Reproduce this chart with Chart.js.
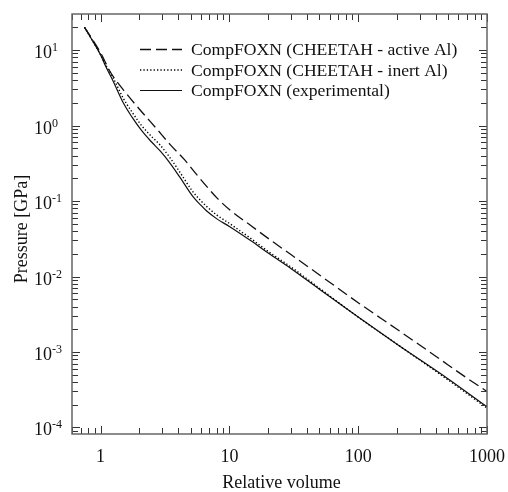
<!DOCTYPE html>
<html>
<head>
<meta charset="utf-8">
<script src="https://cdn.jsdelivr.net/npm/chart.js@4.4.0/dist/chart.umd.min.js"></script>
<style>
  html, body { margin: 0; padding: 0; background: #fff; }
  #wrap { width: 508px; height: 492px; }
</style>
</head>
<body>
<div id="wrap"><canvas id="pressureChart"></canvas></div>
<script>
// values (relative volume vs pressure in GPa)
const activeVol = [0.75, 0.85, 1.0, 1.2, 1.6, 2.1, 2.7, 3.5, 4.5, 5.5, 6.8, 8, 10, 15, 20, 40, 60, 100, 200, 400, 700, 1000];
const activeP = [20, 14.5, 9.2, 5.0, 2.6, 1.5, 0.92, 0.55, 0.35, 0.23, 0.15, 0.11, 0.077, 0.046, 0.032, 0.0138, 0.0084, 0.0045, 0.002, 0.00088, 0.00045, 0.0003];

const expVol = [0.75, 0.85, 1.0, 1.1, 1.25, 1.5, 1.75, 2.1, 2.5, 2.9, 3.4, 4.1, 5.2, 6.0, 6.6, 8, 10, 15, 20, 30, 50, 100, 200, 500, 1000];
const inertP = [20, 14, 8.7, 6.3, 4.3, 2.3, 1.52, 0.98, 0.71, 0.55, 0.39, 0.245, 0.133, 0.101, 0.086, 0.065, 0.0505, 0.031, 0.0215, 0.0134, 0.0070, 0.0029, 0.00127, 0.000425, 0.000181];
const expP = [20, 14, 8.6, 6.0, 3.9, 2.0, 1.3, 0.84, 0.6, 0.46, 0.33, 0.21, 0.115, 0.088, 0.075, 0.058, 0.046, 0.029, 0.0205, 0.0128, 0.0068, 0.0029, 0.00127, 0.00044, 0.000188];

const seriesNames = [
  'CompFOXN (CHEETAH - active Al)',
  'CompFOXN (CHEETAH - inert Al)',
  'CompFOXN (experimental)'
];

const xTickValues = [1, 10, 100, 1000];
const xTickLabels = ['1', '10', '100', '1000'];
const yTickValues = [1e-4, 1e-3, 1e-2, 1e-1, 1, 10];
const yTickExps = ['-4', '-3', '-2', '-1', '0', '1'];

const X_MIN = 0.6, X_MAX = 1000;
const Y_MIN = 8.2e-5, Y_MAX = 30;

const SERIF = "'Liberation Serif', 'Times New Roman', serif";

function toPoints(xs, ys) {
  return xs.map((x, i) => ({ x: x, y: ys[i] }));
}

// minor ticks 2..9 in every decade inside [min, max]
function minorTicks(min, max) {
  const out = [];
  for (let d = Math.floor(Math.log10(min)); d <= Math.ceil(Math.log10(max)); d++) {
    for (let k = 2; k <= 9; k++) {
      const v = k * Math.pow(10, d);
      if (v > min && v < max) out.push(v);
    }
  }
  return out;
}

const frameAndLabels = {
  id: 'frameAndLabels',
  afterDraw(chart) {
    const ctx = chart.ctx;
    const a = chart.chartArea;
    const xs = chart.scales.x, ys = chart.scales.y;
    ctx.save();

    // ticks, inward on all four sides
    ctx.strokeStyle = '#333';
    ctx.lineWidth = 1;
    ctx.setLineDash([]);
    const xTick = (v, len) => {
      const px = Math.round(xs.getPixelForValue(v)) + 0.5;
      ctx.beginPath();
      ctx.moveTo(px, a.bottom); ctx.lineTo(px, a.bottom - len);
      ctx.moveTo(px, a.top); ctx.lineTo(px, a.top + len);
      ctx.stroke();
    };
    const yTick = (v, len) => {
      const py = Math.round(ys.getPixelForValue(v)) + 0.5;
      ctx.beginPath();
      ctx.moveTo(a.left, py); ctx.lineTo(a.left + len, py);
      ctx.moveTo(a.right, py); ctx.lineTo(a.right - len, py);
      ctx.stroke();
    };
    xTickValues.forEach(v => xTick(v, 8));
    minorTicks(X_MIN, X_MAX).forEach(v => xTick(v, 6));
    yTickValues.forEach(v => yTick(v, 8));
    minorTicks(Y_MIN, Y_MAX).forEach(v => yTick(v, 6));

    // frame
    ctx.strokeStyle = '#666';
    ctx.lineWidth = 1.5;
    ctx.strokeRect(a.left, a.top, a.right - a.left, a.bottom - a.top);

    ctx.fillStyle = '#111';

    // x tick labels
    ctx.font = '18px ' + SERIF;
    ctx.textAlign = 'center';
    ctx.textBaseline = 'alphabetic';
    xTickValues.forEach((v, i) => {
      ctx.fillText(xTickLabels[i], xs.getPixelForValue(v), a.bottom + 28);
    });

    // y tick labels: 10 with superscript exponent
    ctx.textAlign = 'left';
    yTickValues.forEach((v, i) => {
      const py = ys.getPixelForValue(v);
      ctx.font = '18px ' + SERIF;
      ctx.fillText('10', 34, py + 8);
      const w = ctx.measureText('10').width;
      ctx.font = '12px ' + SERIF;
      ctx.fillText(yTickExps[i], 34 + w, py + 1);
    });

    // axis titles
    ctx.font = '18px ' + SERIF;
    ctx.textAlign = 'center';
    ctx.fillText('Relative volume', (a.left + a.right) / 2 + 2, 488);
    ctx.save();
    ctx.translate(27, 229);
    ctx.rotate(-Math.PI / 2);
    ctx.fillText('Pressure [GPa]', 0, 0);
    ctx.restore();

    // legend inside the plot
    ctx.font = '17.6px ' + SERIF;
    ctx.textAlign = 'left';
    ctx.textBaseline = 'middle';
    chart.data.datasets.forEach((ds, i) => {
      const y = 49.5 + i * 20.5;
      ctx.strokeStyle = ds.borderColor;
      ctx.lineWidth = ds.borderWidth;
      ctx.setLineDash(ds.borderDash || []);
      ctx.beginPath();
      ctx.moveTo(140, y); ctx.lineTo(182, y);
      ctx.stroke();
      ctx.fillText(ds.label, 191, y + 1);
    });

    ctx.restore();
  }
};

new Chart(document.getElementById('pressureChart'), {
  type: 'line',
  data: {
    datasets: [
      {
        label: seriesNames[0],
        data: toPoints(activeVol, activeP),
        borderColor: '#111',
        borderWidth: 1.3,
        borderDash: [11, 5]
      },
      {
        label: seriesNames[1],
        data: toPoints(expVol, inertP),
        borderColor: '#000',
        borderWidth: 1.4,
        borderDash: [1.3, 2.1]
      },
      {
        label: seriesNames[2],
        data: toPoints(expVol, expP),
        borderColor: '#111',
        borderWidth: 1.2,
        borderDash: []
      }
    ]
  },
  options: {
    responsive: true,
    maintainAspectRatio: false,
    animation: false,
    layout: { padding: { left: 72, right: 21, top: 14, bottom: 58 } },
    elements: {
      point: { radius: 0 },
      line: { cubicInterpolationMode: 'monotone', fill: false }
    },
    scales: {
      x: { type: 'logarithmic', min: X_MIN, max: X_MAX, display: false },
      y: { type: 'logarithmic', min: Y_MIN, max: Y_MAX, display: false }
    },
    plugins: {
      legend: { display: false },
      tooltip: { enabled: false }
    }
  },
  plugins: [frameAndLabels]
});
</script>
</body>
</html>
